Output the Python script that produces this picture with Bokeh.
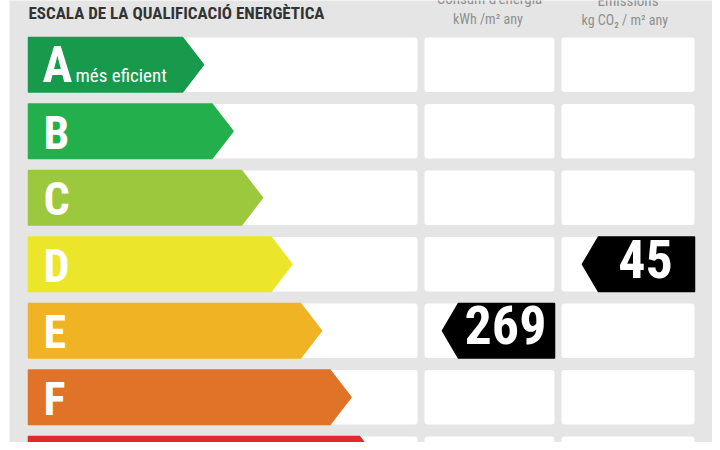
from bokeh.plotting import figure
from bokeh.models import ColumnDataSource, Range1d
from bokeh.core.properties import value
from bokeh.embed import file_html
from bokeh.resources import INLINE

# ---------------- data ----------------
classes = ["A", "B", "C", "D", "E", "F", "G"]
class_colors = ["#179a4b", "#23b04c", "#9bc83c", "#ece62a", "#efb323", "#e07328", "#e2282b"]
title_text = "ESCALA DE LA QUALIFICACIÓ ENERGÈTICA"
best_label = "més eficient"
column_titles = ["Consum d'energia", "Emissions"]
column_units = ["kWh /m²  any", "kg CO₂  / m²  any"]
energy_class = "E"
energy_value = 269
emission_class = "D"
emission_value = 45

# ---------------- layout (pixel-like data units) ----------------
W, H = 712, 442
ROW0, PITCH, ROWH = 37.0, 66.5, 54.5
BAR_X0, TIP0, TIP_STEP, NOTCH_A = 28.0, 203.0, 29.5, 21.0
COLS = [(28.0, 417.0), (424.0, 554.0), (561.0, 694.0)]
PANEL = (9.0, 713.0)
NARROW = "'Roboto Condensed', 'Liberation Sans Narrow', 'Arial Narrow', Roboto, sans-serif"
K = 0.38  # baseline compensation factor

p = figure(width=W, height=H, x_range=Range1d(0, 712), y_range=Range1d(442, 0),
           output_backend="svg", toolbar_location=None, min_border=0)
p.axis.visible = False
p.grid.visible = False
p.outline_line_color = None
p.background_fill_color = "white"
p.border_fill_color = "white"

# gray panel
p.quad(left=[PANEL[0]], right=[PANEL[1]], top=[-20], bottom=[480],
       fill_color="#e5e5e5", line_color=None)

n = len(classes)
tops = [ROW0 + i * PITCH for i in range(n)]
bots = [t + ROWH for t in tops]
mids = [(t + b) / 2 for t, b in zip(tops, bots)]

# white cells
for (l, r) in COLS:
    p.quad(left=[l] * n, right=[r] * n, top=tops, bottom=bots,
           fill_color="white", line_color=None, border_radius=3)

# class arrows
xs, ys = [], []
for i in range(n):
    tip = TIP0 + i * TIP_STEP
    body = tip - NOTCH_A
    xs.append([BAR_X0, body, tip, body, BAR_X0])
    ys.append([tops[i], tops[i], mids[i], bots[i], bots[i]])
p.patches(xs=xs, ys=ys, fill_color=class_colors, line_color=class_colors,
          line_width=1.5, line_join="round")

# class letters
sizes = [50] + [46] * (n - 1)
letter_src = ColumnDataSource(dict(x=[42.0] + [43.0] * (n - 1),
                                   y=[t + 46.0 - K * s for t, s in zip(tops, sizes)],
                                   text=classes,
                                   size=["%dpx" % s for s in sizes]))
p.text(x="x", y="y", text="text", source=letter_src, text_color="white",
       text_font=value(NARROW), text_font_style="bold", text_font_size="size",
       text_baseline="alphabetic", text_align="left")

p.text(x=[75], y=[tops[0] + 45.0 - K * 19], text=[best_label], text_color="white",
       text_font=value(NARROW), text_font_size="19px",
       text_baseline="alphabetic", text_align="left")

# title
p.text(x=[28], y=[18.5 - K * 17], text=[title_text], text_color="#333333",
       text_font=value(NARROW), text_font_style="bold", text_font_size="17px",
       text_baseline="alphabetic", text_align="left")

# column headers
col_centers = [(COLS[1][0] + COLS[1][1]) / 2, (COLS[2][0] + COLS[2][1]) / 2]
p.text(x=col_centers, y=[4.0 - K * 15, 6.0 - K * 15], text=column_titles, text_color="#8f8f8f",
       text_font=value(NARROW), text_font_size="15px",
       text_baseline="alphabetic", text_align="center")
p.text(x=col_centers, y=[23.5 - K * 14, 24.5 - K * 14], text=column_units, text_color="#8f8f8f",
       text_font=value(NARROW), text_font_size="14px",
       text_baseline="alphabetic", text_align="center")

# value tags
TAG_W, NOTCH = 112.0, 16.0
tag_xs, tag_ys, tag_tx, tag_ty, tag_text = [], [], [], [], []
for cls, val, (cl, cr) in [(energy_class, energy_value, COLS[1]),
                           (emission_class, emission_value, COLS[2])]:
    i = classes.index(cls)
    right = cr
    tipx = right - TAG_W
    tag_xs.append([tipx, tipx + NOTCH, right, right, tipx + NOTCH])
    tag_ys.append([mids[i], tops[i], tops[i], bots[i], bots[i]])
    tag_tx.append((tipx + NOTCH + right) / 2 - 1)
    tag_ty.append(tops[i] + 42.5 - K * 54)
    tag_text.append(str(val))
p.patches(xs=tag_xs, ys=tag_ys, fill_color="black", line_color="black",
          line_width=1.5, line_join="round")
p.text(x=tag_tx, y=tag_ty, text=tag_text, text_color="white",
       text_font=value(NARROW), text_font_style="bold", text_font_size="54px",
       text_baseline="alphabetic", text_align="center")

open("out.html", "w").write(file_html(p, INLINE))
